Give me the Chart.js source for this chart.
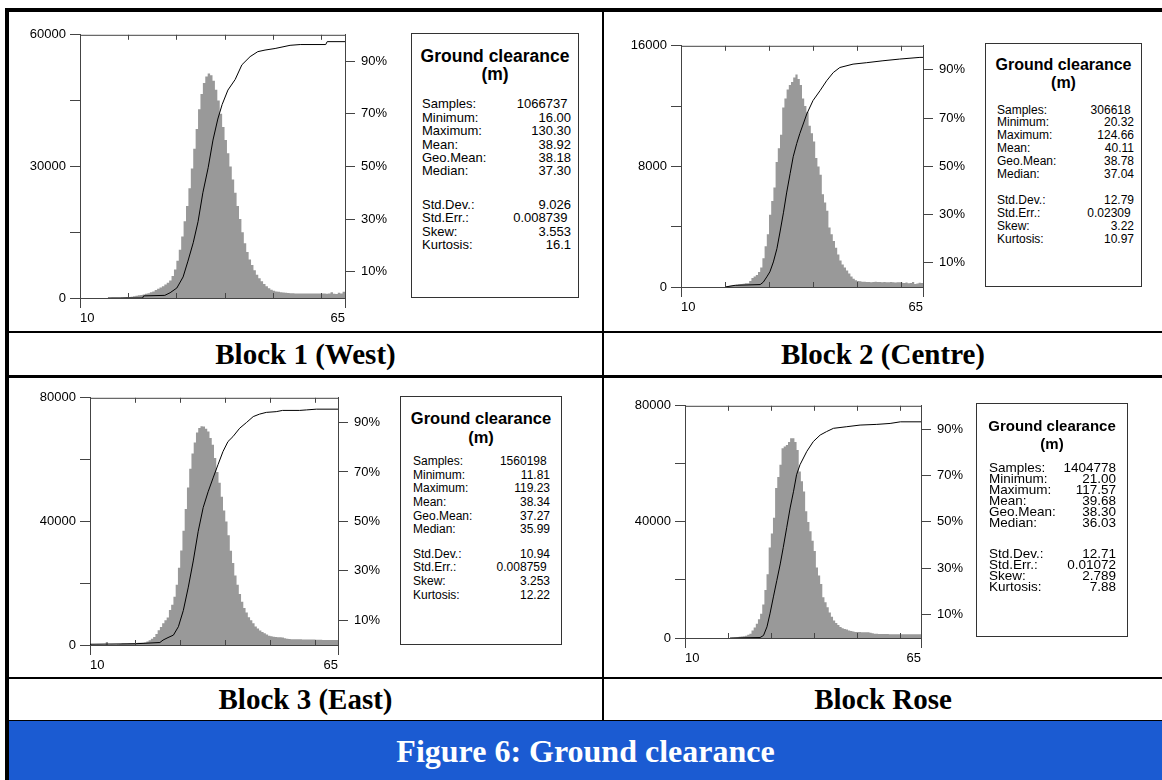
<!DOCTYPE html>
<html>
<head>
<meta charset="utf-8">
<title>Figure 6: Ground clearance</title>
<script src="https://cdn.jsdelivr.net/npm/chart.js@4.4.1/dist/chart.umd.min.js"></script>
<style>
  html, body { margin: 0; padding: 0; background: #fff; overflow: hidden; }
  #page { position: relative; width: 1162px; height: 780px; overflow: hidden; }
  .line { position: absolute; background: #000; }
  .cell-title { position: absolute; font: bold 29px "Liberation Serif", "Times New Roman", serif; text-align: center; color: #000; }
  #footer { position: absolute; left: 9px; top: 720px; width: 1153px; height: 60px; background: #1b5bd2;
            color: #fff; font: bold 32px "Liberation Serif", "Times New Roman", serif; line-height: 60px;
            text-align: center; border-top: 1px solid #000; box-sizing: border-box; }
  canvas { position: absolute; }
  .stats { position: absolute; border: 1px solid #333; box-sizing: border-box; font-family: "Liberation Sans", Arial, sans-serif; color: #000; }
  .stats .head { position: absolute; left: 0; right: 0; text-align: center; font-weight: bold; white-space: nowrap; }
  .stats .row { position: absolute; display: flex; justify-content: space-between; white-space: pre; }
</style>
</head>
<body>
<div id="page"></div>
<script>
// histogram bins: 0.5 m wide, starting at 10 m
const binStart = 10;
const binWidth = 0.5;

const westCounts = [
  0, 0, 0, 0, 0, 0, 0, 0, 0, 0, 0, 0,
  20, 30, 40, 60, 80, 100, 150, 200, 250, 300,
  400, 500, 600, 700, 800, 950, 1100, 1300, 1500, 1800,
  2100, 2400, 2700, 3100, 3500, 4000, 5000, 6500, 8500, 11000,
  14000, 17500, 21000, 25000, 29500, 34000, 38500, 43000, 46500, 49000,
  50500, 51200, 50800, 49500, 47500, 45000, 42000, 39000, 36000, 33000,
  30000, 27000, 24000, 21000, 18000, 15000, 12500, 10500, 8800, 7500,
  6300, 5300, 4500, 3800, 3200, 2700, 2200, 1900, 1650, 1500,
  1400, 1300, 1250, 1200, 1150, 1100, 1100, 1050, 1050, 1050,
  1050, 1000, 1000, 1000, 1000, 1000, 1000, 1000, 1000, 1000,
  950, 1000, 1300, 950, 900, 1200, 1000, 1400
];
const centreCounts = [
  0, 0, 0, 0, 0, 0, 0, 0, 0, 0, 0, 0, 0, 0, 0, 0, 0, 0, 0, 0,
  30, 50, 80, 100, 120, 150, 180, 200, 220, 250,
  250, 400, 600, 700, 800, 1000, 1300, 1900, 2700, 3500,
  4800, 5700, 6600, 8300, 9200, 10100, 11900, 12500, 13100, 13400,
  13600, 13900, 14100, 13800, 13400, 12500, 12000, 11600, 10700, 10200,
  9650, 8550, 8000, 7450, 6150, 5600, 5050, 3950, 3500, 3050,
  2600, 2150, 1750, 1500, 1300, 1100, 900, 700, 550, 450,
  400, 380, 350, 340, 330, 330, 320, 330, 340, 330,
  330, 320, 330, 320, 310, 330, 320, 300, 310, 320,
  280, 260, 300, 250, 270, 330, 200, 230, 280, 260
];
const eastCounts = [
  0, 0, 0, 50, 80, 100, 100, 1000, 100, 150,
  150, 200, 250, 300, 450, 500, 500, 550, 550, 600,
  650, 700, 700, 750, 800, 1100, 1500, 2000, 2600, 3600,
  4800, 5800, 7000, 8000, 8900, 11300, 13000, 15600, 19500, 25000,
  30600, 37000, 44000, 51000, 57000, 62000, 65500, 68800, 70200, 70800,
  70700, 70000, 69100, 67000, 64800, 60500, 56000, 52500, 48000, 43500,
  40000, 35500, 30500, 26500, 22500, 19500, 16500, 14000, 12000, 10500,
  9000, 8000, 7000, 6000, 5300, 4700, 4200, 3800, 3400, 3000,
  2800, 2700, 2600, 2500, 2500, 2400, 2200, 2000, 1950, 1900,
  1900, 1900, 1850, 1850, 1800, 1800, 1800, 1750, 1750, 1750,
  1700, 1700, 1700, 1650, 1650, 1650, 1600, 1600, 1600, 1600
];
const roseCounts = [
  0, 0, 0, 0, 0, 0, 0, 0, 0, 0, 0, 0, 0, 0, 0, 0, 0, 0, 0, 0, 0, 0,
  100, 200, 300, 400, 500, 600, 800, 1100,
  1500, 2600, 3600, 4900, 6500, 8350, 11500, 16500, 22000, 31200,
  36000, 41400, 51700, 55500, 59700, 65400, 66000, 66500, 67500, 68800,
  68800, 67500, 64800, 57400, 54000, 50500, 43700, 40000, 36800, 33500,
  30000, 24300, 21500, 18600, 14000, 12300, 10600, 8800, 7300, 6060,
  5200, 4500, 3800, 3400, 3100, 2900, 2600, 2400, 2200, 2100,
  2050, 2050, 2000, 2000, 2000, 1950, 1800, 1600, 1500, 1450,
  1400, 1400, 1350, 1350, 1350, 1300, 1300, 1300, 1300, 1300,
  1300, 1300, 1300, 1300, 1300, 1300, 1300, 1300, 1300, 1300
];

// cumulative percentage curves (x in m, y in %)
const westCumX = [15.8, 23.0, 23.2, 27.6, 28.7, 30.1, 31.4, 32.4, 33.5, 34.5, 35.5, 36.6, 37.6, 38.6, 39.5, 40.7, 42.2, 43.6, 45.3, 46.9, 48.4, 50.5, 53.6, 55.7, 61.0, 61.3, 65];
const westCumY = [0, 0, 0.8, 1, 2, 3.8, 8, 14, 21, 29, 40, 49.5, 60, 68, 73.5, 79, 83, 88.6, 91.7, 93.6, 94.2, 94.8, 96, 96.3, 96.3, 97.4, 97.4];
const centreCumX = [20, 22.3, 28, 28.7, 29.5, 30.2, 31, 31.8, 32.5, 33.3, 34, 34.8, 35.5, 36.3, 37, 38.6, 40, 41.6, 43.1, 44.6, 46.1, 49.1, 52.2, 55.9, 59.7, 64.3, 65];
const centreCumY = [0, 0.7, 1, 2, 4.2, 6.3, 10.4, 15.9, 22.8, 31, 39, 47, 54, 59.5, 63.6, 71.8, 77.3, 81.4, 85.5, 88.9, 91, 92.4, 93, 93.8, 94.5, 95.2, 95.2];
const eastCumX = [10, 20, 25.5, 26.2, 27.3, 28.5, 29.6, 30.7, 31.8, 32.9, 34, 35.1, 36.2, 37.3, 38.4, 39.5, 40.6, 41.7, 43.2, 44.7, 46.2, 47.6, 49.1, 51.3, 52.7, 56.5, 58, 60.2, 65];
const eastCumY = [0.3, 0.5, 1, 2, 3, 4, 7.4, 14, 23.4, 34, 46, 55.6, 62, 67.6, 73, 78.3, 82.3, 84.3, 87.7, 90, 92.4, 93.4, 94.1, 94.4, 94.9, 94.9, 95.1, 95.4, 95.4];
const roseCumX = [20.5, 27.5, 28.3, 29.1, 29.8, 30.6, 31.4, 32.2, 32.9, 33.7, 34.5, 35.3, 36, 36.8, 38.4, 39.9, 41.5, 43, 44.6, 47.7, 50.8, 54.7, 57.8, 60.2, 65];
const roseCumY = [0, 0.2, 1.1, 4.8, 10.4, 17.7, 24.8, 31.9, 39, 47.5, 56, 63.2, 70.3, 74.6, 80.4, 84.6, 87.4, 88.9, 90.3, 91, 91.7, 92, 92.4, 93.1, 93.1];

// axis ticks
const xTicks = [10, 20, 30, 40, 50, 60, 65];
const pctTicks = [10, 30, 50, 70, 90];
const westYTicks = [0, 15000, 30000, 45000, 60000];
const centreYTicks = [0, 4000, 8000, 12000, 16000];
const eastYTicks = [0, 20000, 40000, 60000, 80000];
const roseYTicks = [0, 20000, 40000, 60000, 80000];

// statistics boxes
const statTitle = 'Ground clearance';
const statUnit = '(m)';
const statLabels = ['Samples:', 'Minimum:', 'Maximum:', 'Mean:', 'Geo.Mean:', 'Median:', 'Std.Dev.:', 'Std.Err.:', 'Skew:', 'Kurtosis:'];
const westStats = ['1066737 ', '16.00', '130.30', '38.92', '38.18', '37.30', '9.026', '0.008739 ', '3.553', '16.1'];
const centreStats = ['306618 ', '20.32', '124.66', '40.11', '38.78', '37.04', '12.79', '0.02309 ', '3.22', '10.97'];
const eastStats = ['1560198 ', '11.81', '119.23', '38.34', '37.27', '35.99', '10.94', '0.008759 ', '3.253', '12.22'];
const roseStats = ['1404778', '21.00', '117.57', '39.68', '38.30', '36.03', '12.71', '0.01072', '2.789', '7.88'];

const blockTitles = ['Block 1 (West)', 'Block 2 (Centre)', 'Block 3 (East)', 'Block Rose'];
const figureTitle = 'Figure 6: Ground clearance';

const histColor = '#999999';
const axisColor = '#444444';

Chart.defaults.font.family = '"Liberation Sans", Arial, sans-serif';
Chart.defaults.font.size = 13;
Chart.defaults.color = '#000';

const blocks = [
  { counts: westCounts, cumX: westCumX, cumY: westCumY, yTicks: westYTicks, stats: westStats,
    plot: { l: 80, t: 33, r: 345, b: 298 },
    box: { x: 411, y: 33, w: 168, h: 265, title: 17.5, titleY: 57, mY: 75, rowY: 104, lh: 13.4, gap: 20, font: 13, padL: 10, padR: 7 },
    titleCell: { x: 9, y: 333, w: 593, h: 42 } },
  { counts: centreCounts, cumX: centreCumX, cumY: centreCumY, yTicks: centreYTicks, stats: centreStats,
    plot: { l: 681, t: 44, r: 923, b: 287 },
    box: { x: 985, y: 43, w: 157, h: 244, title: 16, titleY: 65, mY: 83, rowY: 110, lh: 12.8, gap: 14, font: 12, padL: 11, padR: 7 },
    titleCell: { x: 604, y: 333, w: 558, h: 42 } },
  { counts: eastCounts, cumX: eastCumX, cumY: eastCumY, yTicks: eastYTicks, stats: eastStats,
    plot: { l: 90, t: 396, r: 338, b: 645 },
    box: { x: 400, y: 396, w: 162, h: 249, title: 16.5, titleY: 418, mY: 437, rowY: 462, lh: 13.6, gap: 11, font: 12, padL: 12, padR: 11 },
    titleCell: { x: 9, y: 679, w: 593, h: 41 } },
  { counts: roseCounts, cumX: roseCumX, cumY: roseCumY, yTicks: roseYTicks, stats: roseStats,
    plot: { l: 685, t: 404, r: 921, b: 638 },
    box: { x: 976, y: 403, w: 152, h: 234, title: 15, titleY: 425, mY: 443, rowY: 467, lh: 11, gap: 20, font: 13.5, padL: 12, padR: 11 },
    titleCell: { x: 604, y: 679, w: 558, h: 41 } }
];

const page = document.getElementById('page');

// frame plugin: top edge of the plot box and the short inward ticks
const frameTicks = {
  id: 'frameTicks',
  afterDraw(chart) {
    const { ctx, chartArea: a, scales: { x } } = chart;
    ctx.save();
    ctx.strokeStyle = axisColor;
    ctx.lineWidth = 1;
    ctx.beginPath();
    ctx.moveTo(a.left, a.top + 0.5);
    ctx.lineTo(a.right, a.top + 0.5);
    xTicks.slice(1, -1).forEach(v => {
      const px = Math.round(x.getPixelForValue(v)) + 0.5;
      ctx.moveTo(px, a.bottom);
      ctx.lineTo(px, a.bottom - 5);
      ctx.moveTo(px, a.top);
      ctx.lineTo(px, a.top + 5);
    });
    ctx.stroke();
    ctx.restore();
  }
};

function addLine(x, y, w, h) {
  const d = document.createElement('div');
  d.className = 'line';
  Object.assign(d.style, { left: x + 'px', top: y + 'px', width: w + 'px', height: h + 'px' });
  page.appendChild(d);
}

function createChart(block) {
  const p = block.plot;
  const padL = 70, padR = 60, padT = 12, padB = 32;
  const canvas = document.createElement('canvas');
  canvas.width = p.r - p.l + padL + padR;
  canvas.height = p.b - p.t + padT + padB;
  canvas.style.left = (p.l - padL) + 'px';
  canvas.style.top = (p.t - padT) + 'px';
  page.appendChild(canvas);

  const yTicks = block.yTicks;
  const n = block.counts.length;
  // histogram as a filled step outline: each bin's count held from its left edge to the next
  const hist = block.counts.map((c, i) => ({ x: binStart + binWidth * i, y: c }));
  hist.push({ x: binStart + binWidth * n, y: block.counts[n - 1] });
  const cum = block.cumX.map((x, i) => ({ x, y: block.cumY[i] }));

  return new Chart(canvas, {
    type: 'line',
    data: {
      datasets: [
        { data: cum, yAxisID: 'y2', borderColor: '#000', borderWidth: 1, pointRadius: 0, tension: 0, fill: false, order: 0 },
        { data: hist, yAxisID: 'y', stepped: true, fill: 'origin', backgroundColor: histColor,
          borderColor: histColor, borderWidth: 0, pointRadius: 0, order: 1 }
      ]
    },
    options: {
      responsive: false,
      animation: false,
      events: [],
      layout: { padding: { top: padT, left: 0, right: 0, bottom: 0 } },
      plugins: { legend: { display: false }, tooltip: { enabled: false } },
      scales: {
        x: {
          type: 'linear', min: xTicks[0], max: xTicks[xTicks.length - 1], offset: false, z: 1,
          afterBuildTicks: s => { s.ticks = xTicks.map(v => ({ value: v })); },
          afterFit: s => { s.height = padB; },
          grid: { drawOnChartArea: false, offset: false, tickLength: 10,
                  color: c => (c.index === 0 || c.index === xTicks.length - 1) ? axisColor : 'rgba(0,0,0,0)' },
          border: { display: true, color: axisColor },
          ticks: { autoSkip: false, maxRotation: 0, align: 'inner', padding: 3,
                   callback: (v, i) => (i === 0 || i === xTicks.length - 1) ? String(v) : '' }
        },
        y: {
          position: 'left', min: yTicks[0], max: yTicks[yTicks.length - 1], z: 1,
          afterBuildTicks: s => { s.ticks = yTicks.map(v => ({ value: v })); },
          afterFit: s => { s.width = padL; },
          grid: { drawOnChartArea: false, tickLength: 10, color: axisColor },
          border: { display: true, color: axisColor },
          ticks: { autoSkip: false, padding: 4, callback: (v, i) => i % 2 === 0 ? String(v) : '' }
        },
        y2: {
          position: 'right', min: 0, max: 100, z: 1,
          afterBuildTicks: s => { s.ticks = pctTicks.map(v => ({ value: v })); },
          afterFit: s => { s.width = padR; },
          grid: { drawOnChartArea: false, tickLength: 10, color: axisColor },
          border: { display: true, color: axisColor },
          ticks: { autoSkip: false, padding: 6, callback: v => v + '%' }
        }
      }
    },
    plugins: [frameTicks]
  });
}

function buildStats(block) {
  const b = block.box;
  const el = document.createElement('div');
  el.className = 'stats';
  Object.assign(el.style, { left: b.x + 'px', top: b.y + 'px', width: b.w + 'px', height: b.h + 'px', fontSize: b.font + 'px' });

  [statTitle, statUnit].forEach((t, i) => {
    const d = document.createElement('div');
    d.className = 'head';
    d.textContent = t;
    d.style.fontSize = b.title + 'px';
    d.style.lineHeight = b.title + 'px';
    d.style.top = ((i ? b.mY : b.titleY) - b.y - 1 - b.title / 2) + 'px';
    el.appendChild(d);
  });

  statLabels.forEach((label, i) => {
    const cy = b.rowY + i * b.lh + (i >= 6 ? b.gap : 0);
    const row = document.createElement('div');
    row.className = 'row';
    Object.assign(row.style, { left: b.padL + 'px', right: b.padR + 'px', top: (cy - b.y - 1 - b.lh / 2) + 'px',
                               height: b.lh + 'px', lineHeight: b.lh + 'px' });
    row.innerHTML = `<span>${label}</span><span>${block.stats[i]}</span>`;
    el.appendChild(row);
  });
  page.appendChild(el);
}

function buildTitle(text, cell) {
  const d = document.createElement('div');
  d.className = 'cell-title';
  d.textContent = text;
  Object.assign(d.style, { left: cell.x + 'px', top: cell.y + 'px', width: cell.w + 'px', height: cell.h + 'px', lineHeight: cell.h + 'px' });
  page.appendChild(d);
}

// table frame
addLine(5, 8, 1157, 4);
addLine(5, 8, 4, 772);
addLine(602, 12, 2, 708);
addLine(9, 331, 1153, 2);
addLine(9, 375, 1153, 3);
addLine(9, 677, 1153, 2);

blocks.forEach((block, i) => {
  createChart(block);
  buildStats(block);
  buildTitle(blockTitles[i], block.titleCell);
});

const footer = document.createElement('div');
footer.id = 'footer';
footer.textContent = figureTitle;
page.appendChild(footer);
</script>
</body>
</html>
